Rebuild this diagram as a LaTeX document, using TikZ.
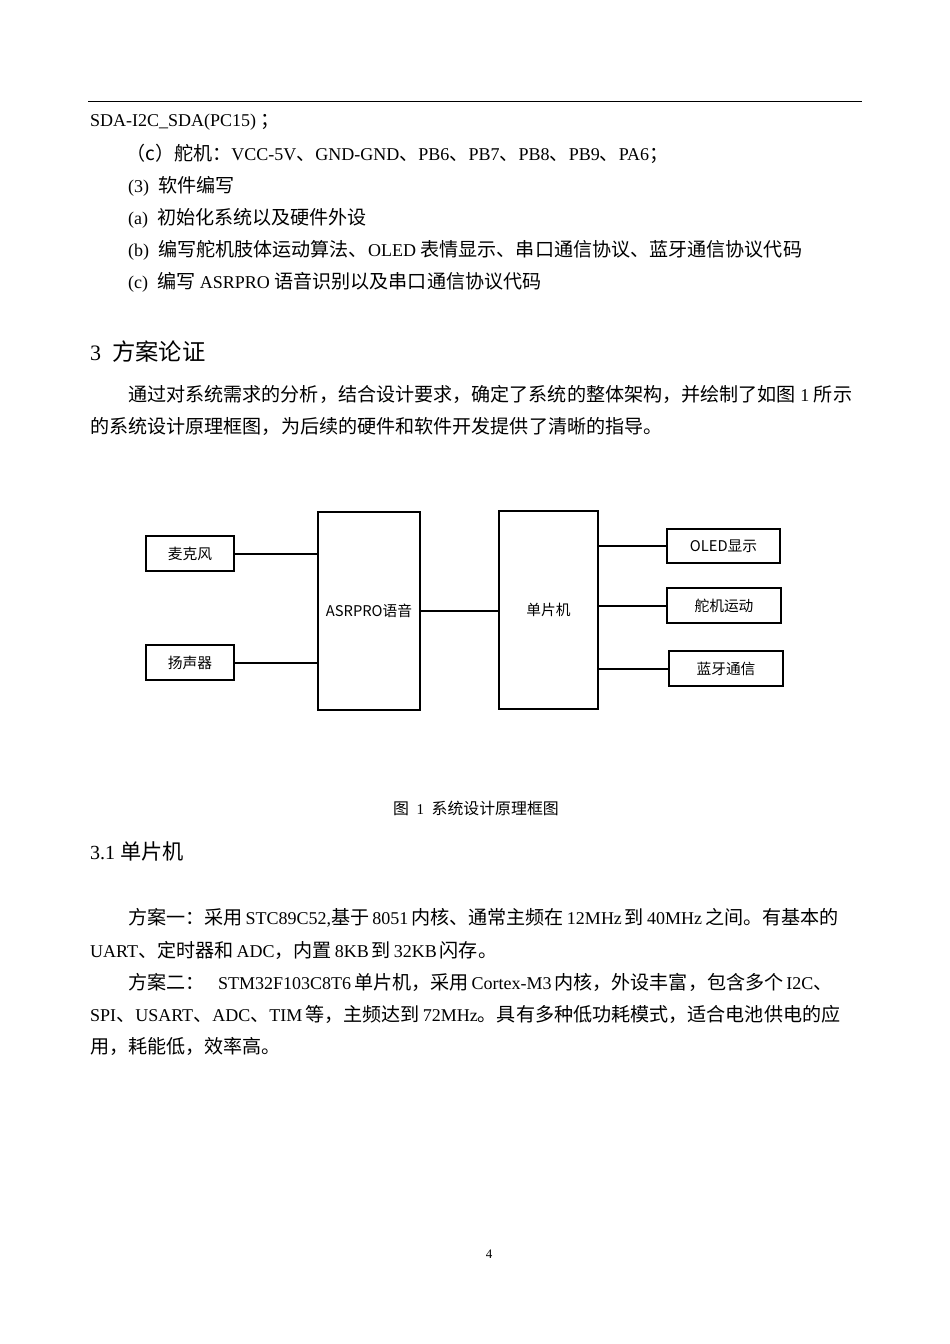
\documentclass[tikz,border=0pt]{standalone}
\usepackage{fontspec}
\setmainfont{Liberation Serif}
\newfontfamily\cjk[Scale=1.06]{Noto Sans CJK SC}
\newcommand{\zh}[1]{{\cjk #1}}
\begin{document}
\begin{tikzpicture}[x=1pt,y=-1pt,
  txt/.style={anchor=west,inner sep=0pt,font=\fontsize{18}{20}\selectfont},
  blk/.style={draw,line width=2pt,inner sep=0pt,font=\cjk\fontsize{13.9}{16}\selectfont},
  ln/.style={line width=2pt}]
\useasboundingbox (0,0) rectangle (950,1344);
\fill[white] (0,0) rectangle (950,1344);
\draw[line width=0.8pt] (88,101) -- (862,101);
\node[txt] (l1) at (90,122) {SDA-I2C\_SDA(PC15)\ \zh{；}};
\node[txt] (l2) at (126,154) {\zh{（c）舵机：}VCC-5V\zh{、}GND-GND\zh{、}PB6\zh{、}PB7\zh{、}PB8\zh{、}PB9\zh{、}PA6\zh{；}};
\node[txt] (l3) at (128,186) {(3)\ \ \zh{软件编写}};
\node[txt] (l4) at (128,218) {(a)\ \ \zh{初始化系统以及硬件外设}};
\node[txt] (l5) at (128,250) {(b)\ \ \zh{编写舵机肢体运动算法、}OLED\ \zh{表情显示、串口通信协议、蓝牙通信协议代码}};
\node[txt] (l6) at (128,282) {(c)\ \ \zh{编写}\ ASRPRO\ \zh{语音识别以及串口通信协议代码}};
\node[txt,font=\fontsize{22}{26}\selectfont] (h3) at (90,352) {3\ \ \zh{方案论证}};
\node[txt] (p1) at (128,394) {\zh{通过对系统需求的分析，结合设计要求，确定了系统的整体架构，并绘制了如图}\ 1\ \zh{所示}};
\node[txt] (p2) at (90,426) {\zh{的系统设计原理框图，为后续的硬件和软件开发提供了清晰的指导。}};

\node[blk,minimum width=88,minimum height=35] (mic) at (190,553.5) {麦克风};
\node[blk,minimum width=88,minimum height=35] (spk) at (190,662.5) {扬声器};
\node[blk,minimum width=102,minimum height=198] (asr) at (369,611) {ASRPRO语音};
\node[blk,minimum width=99,minimum height=198] (mcu) at (548.5,610) {单片机};
\node[blk,minimum width=113,minimum height=34] (oled) at (723.5,546) {OLED显示};
\node[blk,minimum width=114,minimum height=35] (servo) at (724,605.5) {舵机运动};
\node[blk,minimum width=114,minimum height=35] (bt) at (726,668.5) {蓝牙通信};
\draw[ln] (mic.east) -- (mic.east -| asr.west);
\draw[ln] (spk.east) -- (spk.east -| asr.west);
\draw[ln] (asr.east) -- (asr.east -| mcu.west);
\draw[ln] (oled.west -| mcu.east) -- (oled.west);
\draw[ln] (servo.west -| mcu.east) -- (servo.west);
\draw[ln] (bt.west -| mcu.east) -- (bt.west);

\node[inner sep=0pt,font=\fontsize{15}{16}\selectfont] (cap) at (476,808) {\zh{图}\ \ 1\ \ \zh{系统设计原理框图}};
\node[txt,font=\fontsize{20}{24}\selectfont] (h31) at (90,851) {3.1\ \zh{单片机}};
\node[txt] (q1) at (128,918) {\zh{方案一：采用}\,STC89C52,\zh{基于}\,8051\,\zh{内核、通常主频在}\,12MHz\,\zh{到}\,40MHz\,\zh{之间。有基本的}};
\node[txt] (q2) at (90,950) {UART\zh{、定时器和}\,ADC\zh{，内置}\,8KB\,\zh{到}\,32KB\,\zh{闪存。}};
\node[txt] (q3) at (128,982) {\zh{方案二：}\ \ \ STM32F103C8T6\,\zh{单片机，采用}\,Cortex-M3\,\zh{内核，外设丰富，包含多个}\,I2C\zh{、}};
\node[txt] (q4) at (90,1014) {SPI\zh{、}USART\zh{、}ADC\zh{、}TIM\,\zh{等，主频达到}\,72MHz\zh{。具有多种低功耗模式，适合电池供电的应}};
\node[txt] (q5) at (90,1046) {\zh{用，耗能低，效率高。}};
\node[inner sep=0pt,font=\fontsize{13}{15}\selectfont] (pg) at (489,1254) {4};
\end{tikzpicture}
\end{document}
